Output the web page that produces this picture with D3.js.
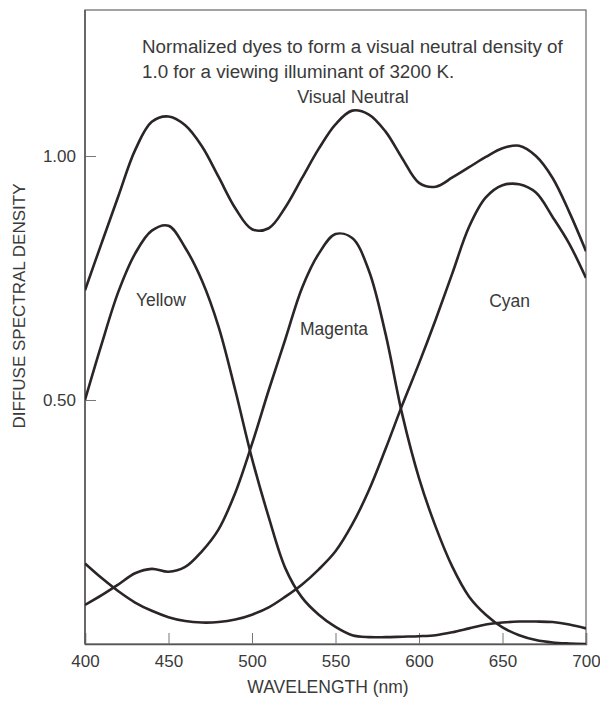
<!DOCTYPE html>
<html><head><meta charset="utf-8">
<script src="https://cdn.jsdelivr.net/npm/d3@7"></script>
<style>
html,body{margin:0;padding:0;background:#fff;}
svg{display:block;font-family:"Liberation Sans",Arial,Helvetica,sans-serif;}
</style></head>
<body>
<svg id="chart" width="600" height="702"></svg>
<script>
const wavelengths = [400,410,420,430,440,450,460,470,480,490,500,510,520,530,540,550,560,570,580,590,600,610,620,630,640,650,660,670,680,690,700];
const yellow   = [0.50,0.615,0.722,0.800,0.847,0.857,0.812,0.745,0.65,0.52,0.38,0.26,0.155,0.095,0.06,0.035,0.018,0.014,0.014,0.015,0.016,0.018,0.024,0.032,0.040,0.044,0.046,0.046,0.045,0.040,0.032];
const magenta  = [0.08,0.10,0.122,0.145,0.154,0.148,0.158,0.19,0.235,0.31,0.41,0.52,0.625,0.73,0.80,0.84,0.832,0.765,0.635,0.47,0.34,0.24,0.158,0.097,0.06,0.034,0.018,0.008,0.003,0.001,0.0];
const cyan     = [0.165,0.135,0.108,0.085,0.068,0.055,0.047,0.044,0.045,0.050,0.060,0.075,0.097,0.122,0.153,0.19,0.245,0.315,0.40,0.49,0.575,0.665,0.76,0.855,0.915,0.94,0.942,0.925,0.875,0.82,0.75];
const neutral  = [0.725,0.822,0.918,1.012,1.07,1.081,1.063,1.02,0.957,0.893,0.85,0.852,0.895,0.955,1.015,1.065,1.093,1.085,1.05,0.995,0.945,0.937,0.956,0.977,0.998,1.016,1.021,1.0,0.955,0.885,0.805];
const xTicks = [400,450,500,550,600,650,700];
const yTicks = [0.5,1.0];
const seriesLabels = [
  {name:"Yellow", wl:430.5, v:0.693},
  {name:"Magenta", wl:528.7, v:0.633},
  {name:"Cyan", wl:642, v:0.691}
];
const titleLines = ["Normalized dyes to form a visual neutral density of","1.0 for a viewing illuminant of 3200 K."];

const svg = d3.select("#chart");
const L=85, R=586, T=10, B=644;
const x = d3.scaleLinear().domain([400,700]).range([L,R]);
const y = d3.scaleLinear().domain([0,1.3]).range([B,B-1.3*488]);
const ink = "#2b2526", txt="#3a3a3a";

svg.append("rect").attr("x",L).attr("y",T).attr("width",R-L).attr("height",B-T)
  .attr("fill","none").attr("stroke","#666").attr("stroke-width",1.2);

// axes
const xAxis = svg.append("g").attr("transform",`translate(0,${B})`)
  .call(d3.axisBottom(x).tickValues(xTicks).tickSize(-11).tickPadding(11).tickFormat(d3.format("d")));
xAxis.select(".domain").attr("stroke","#555").attr("stroke-width",1.5);
xAxis.selectAll(".tick line").attr("stroke","#777");
xAxis.selectAll("text").attr("font-size",17).attr("fill",txt).attr("font-family","Liberation Sans, Arial, sans-serif");

const yAxis = svg.append("g").attr("transform",`translate(${L},0)`)
  .call(d3.axisLeft(y).tickValues(yTicks).tickSize(-11).tickPadding(9).tickFormat(d3.format(".2f")));
yAxis.select(".domain").remove();
yAxis.selectAll(".tick line").attr("stroke","#777");
yAxis.selectAll("text").attr("font-size",17).attr("fill",txt).attr("font-family","Liberation Sans, Arial, sans-serif");
svg.append("line").attr("x1",L).attr("x2",L).attr("y1",T).attr("y2",B).attr("stroke","#555").attr("stroke-width",1.5);

svg.append("defs").append("clipPath").attr("id","clip").append("rect")
  .attr("x",L).attr("y",T).attr("width",R-L).attr("height",B-T);

const line = d3.line().x((d,i)=>x(wavelengths[i])).y(d=>y(d)).curve(d3.curveCatmullRom.alpha(0.5));
const g = svg.append("g").attr("clip-path","url(#clip)");
[yellow,magenta,cyan,neutral].forEach(s=>{
  g.append("path").attr("d",line(s)).attr("fill","none").attr("stroke",ink).attr("stroke-width",2.6);
});

seriesLabels.forEach(l=>{
  svg.append("text").attr("x",x(l.wl)).attr("y",y(l.v)).attr("font-size",17.5).attr("fill",txt).text(l.name);
});
svg.append("text").attr("x",353).attr("y",103).attr("text-anchor","middle").attr("font-size",18).attr("fill",txt).text("Visual Neutral");
titleLines.forEach((t,i)=>{
  svg.append("text").attr("x",142).attr("y",53+i*25).attr("font-size",18.8).attr("fill",txt).text(t);
});
svg.append("text").attr("x",328).attr("y",693).attr("text-anchor","middle").attr("font-size",17.5).attr("fill",txt).text("WAVELENGTH (nm)");
svg.append("text").attr("transform","translate(25,306) rotate(-90)").attr("text-anchor","middle").attr("font-size",17).attr("fill",txt).text("DIFFUSE SPECTRAL DENSITY");
</script>
</body></html>
